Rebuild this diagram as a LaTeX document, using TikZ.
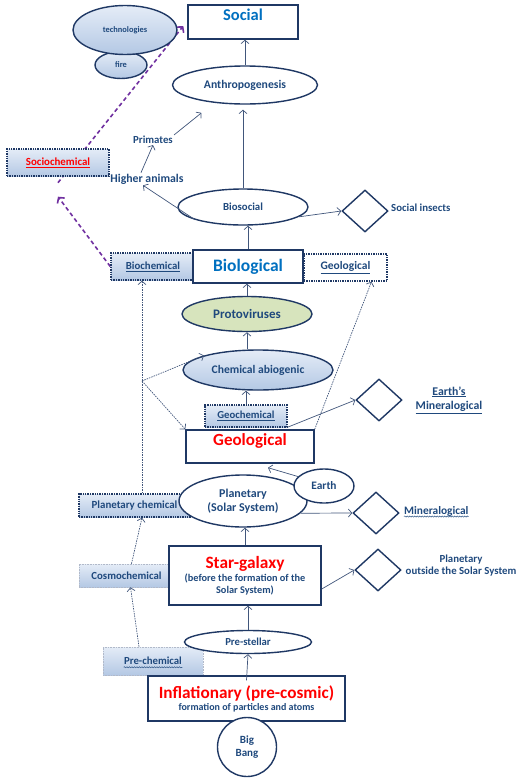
\documentclass[tikz,border=0pt]{standalone}
\usepackage{fontspec}
\setmainfont{Carlito}
\usetikzlibrary{shapes.geometric,arrows.meta,backgrounds,decorations.pathmorphing}
\definecolor{navy}{HTML}{1F3864}
\definecolor{ink}{HTML}{1F497D}
\definecolor{skyblue}{HTML}{0070C0}
\definecolor{hotred}{HTML}{FF0000}
\definecolor{plum}{HTML}{7030A0}
\definecolor{paleA}{HTML}{E4ECF7}
\definecolor{paleB}{HTML}{B4C8E4}
\definecolor{moss}{HTML}{D7E4BD}
\newcommand{\fsz}[2]{\fontsize{#1}{#2}\selectfont\bfseries}
\begin{document}
\begin{tikzpicture}[x=1pt,y=-1pt,
  box/.style={draw=navy,line width=1.4pt,fill=white,inner sep=0pt},
  oval/.style={ellipse,draw=navy,line width=1.4pt,fill=white,inner sep=0pt,text=ink},
  glaze/.style={top color=paleA,bottom color=paleB},
  chem/.style={draw=navy,line width=1.4pt,densely dotted,fill=white,inner sep=0pt,text=ink},
  faint/.style={glaze,draw=navy!35,line width=0.6pt,densely dotted,inner sep=0pt,text=ink},
  gem/.style={diamond,draw=navy,line width=1.4pt,fill=white,inner sep=0pt,minimum width=46pt,minimum height=42pt},
  tag/.style={text=ink,inner sep=1pt},
  headline/.style={anchor=north,inner sep=1pt,yshift=-3pt},
  link/.style={draw=navy!85,line width=0.7pt,-{Straight Barb[length=3.5pt,width=8pt]}},
  dlink/.style={link,dash pattern=on 1.5pt off 1pt},
  plink/.style={draw=plum,line width=1.6pt,dash pattern=on 4pt off 3pt,-{Straight Barb[length=4pt,width=9pt]}},
  squiggle/.style={draw=ink,line width=0.5pt,decorate,decoration={snake,amplitude=0.6pt,segment length=2.5pt}}]
\useasboundingbox (0,0) rectangle (526,782);

% social level
\node[oval,glaze,minimum width=52pt,minimum height=27pt,font=\fsz{8.4}{9}] (fire) at (121,65) {fire};
\node[oval,glaze,minimum width=104pt,minimum height=49pt,font=\fsz{8.4}{9}] (tech) at (125,30) {technologies};
\node[box,minimum width=110pt,minimum height=34pt,
      label={[headline,text=skyblue,font=\fsz{16.5}{18}]north:Social}] (social) at (243,22) {};
\node[oval,minimum width=145pt,minimum height=38pt,font=\fsz{11.7}{13}] (anthro) at (245,85) {Anthropogenesis};
\node[tag,font=\fsz{10.8}{12}] (primates) at (153,140) {Primates};
\node[tag,font=\fsz{11.8}{13}] (higher) at (147,179) {Higher animals};
\node[oval,minimum width=130pt,minimum height=36pt,font=\fsz{10.8}{12}] (biosocial) at (243,207) {Biosocial};
\node[gem] (insects) at (365,211) {};
\node[tag,font=\fsz{10.8}{12},anchor=west] (insectstxt) at (390,208) {Social insects};
\node[chem,glaze,minimum width=102pt,minimum height=27pt,font=\fsz{10.9}{12},text=hotred] (sociochem) at (58,162.5) {\underline{Sociochemical}};

% biological level
\node[chem,glaze,minimum width=84pt,minimum height=27pt,font=\fsz{10.8}{12}] (biochem) at (153,266.5) {\underline{Biochemical}};
\node[chem,minimum width=83pt,minimum height=27pt,font=\fsz{11.5}{12}] (geoR) at (345.5,267.5) {\underline{Geological}};
\node[box,minimum width=110pt,minimum height=33pt,text=skyblue,font=\fsz{17.5}{19}] (biological) at (248,266.5) {Biological};
\node[oval,fill=moss,minimum width=130pt,minimum height=35pt,font=\fsz{13}{14}] (proto) at (247,314) {Protoviruses};
\node[oval,glaze,minimum width=150pt,minimum height=40pt,font=\fsz{11.6}{13}] (chemab) at (258,370) {Chemical abiogenic};
\node[chem,glaze,minimum width=82pt,minimum height=22pt,font=\fsz{10.7}{12}] (geochem) at (246,416) {\underline{Geochemical}};
\node[gem] (earthgem) at (379,400) {};
\node[tag,font=\fsz{11.8}{14.5},align=center] (earthmin) at (449,400) {\underline{Earth\symbol{39}s}\\\underline{Mineralogical}};

% geological level
\node[box,minimum width=128pt,minimum height=33pt,
      label={[headline,text=hotred,font=\fsz{17}{18}]north:Geological}] (geol) at (250,446.5) {};
\node[chem,glaze,minimum width=111pt,minimum height=23pt,font=\fsz{10.9}{12}] (pchem) at (134.5,505.5) {Planetary chemical};
\node[oval,minimum width=128pt,minimum height=52pt,font=\fsz{12}{14.5},align=center] (planet) at (243,501) {Planetary\\(Solar System)};
\node[oval,minimum width=60pt,minimum height=34pt,font=\fsz{11.4}{12}] (earth) at (324,486) {Earth};
\node[gem] (mingem) at (376,513) {};
\node[tag,font=\fsz{11.4}{12},anchor=west] (mintxt) at (403,511) {Mineralogical};

% cosmic level
\node[faint,minimum width=95pt,minimum height=23pt,font=\fsz{10.8}{12}] (cosmo) at (126.5,575.5) {Cosmochemical};
\node[box,minimum width=152pt,minimum height=59pt,align=center,text=ink,font=\fsz{10.3}{11.5}] (star) at (245,575.5)
  {{\color{hotred}\fsz{17.3}{18}Star-galaxy}\\[2pt](before the formation of the\\Solar System)};
\node[gem] (outgem) at (378,570) {};
\node[tag,font=\fsz{10.8}{12},align=center] (outtxt) at (461,566) {Planetary\\outside the Solar System};
\node[faint,minimum width=100pt,minimum height=28pt,font=\fsz{10.8}{12}] (prechem) at (153,661) {Pre-chemical};
\node[oval,minimum width=127pt,minimum height=23pt,font=\fsz{10.7}{12}] (prestellar) at (248,642) {Pre-stellar};
\node[box,minimum width=197pt,minimum height=45pt,align=center,text=ink,font=\fsz{10}{11}] (infl) at (246.5,698.5)
  {{\color{hotred}\fsz{17.2}{18}Inflationary (pre-cosmic)}\\[1pt]formation of particles and atoms};
\node[circle,draw=navy,line width=1.4pt,fill=white,minimum size=59pt,inner sep=0pt,align=center,
      text=ink,font=\fsz{11}{13.5}] (bang) at (247,747) {Big\\Bang};

% wavy underlines
\draw[squiggle] ([xshift=1pt,yshift=-2.5pt]mintxt.base west) -- ([xshift=-1pt,yshift=-2.5pt]mintxt.base east);
\draw[squiggle] ([xshift=21pt,yshift=-2.5pt]prechem.base west) -- ([xshift=-21pt,yshift=-2.5pt]prechem.base east);

% solid arrows
\draw[link] (anthro.north) -- (anthro.north |- social.south);
\draw[link,shorten >=5pt] (biosocial.north) -- (biosocial.north |- anthro.south);
\draw[link] (biosocial.195) -- ([xshift=-4pt]higher.south);
\draw[link] ([xshift=-6pt]higher.north) -- (primates.south);
\draw[link] (primates.north east) -- ([yshift=-12pt]anthro.200);
\draw[link] (biosocial.-10) -- (insects.west);
\draw[link] (biological.north) -- (biological.north |- biosocial.south);
\draw[link] (proto.north) -- (proto.north |- biological.south);
\draw[link] (proto.south |- chemab.north) -- (proto.south);
\draw[link] (geochem.north) -- (geochem.north |- chemab.south);
\draw[link] (geochem.-15) -- (earthgem.west);
\draw[link] (earth.160) -- ([xshift=18pt,yshift=-4pt]geol.south);
\draw[link] (planet.-12) -- (mingem.west);
\draw[link] (star.north) -- (star.north |- planet.south);
\draw[link] (star.-10) -- (outgem.west);
\draw[link] (prestellar.north) -- (prestellar.north |- star.south);
\draw[link] ([yshift=-5pt]infl.north) -- (prestellar.south);

% dotted arrows
\coordinate (fork) at (142,381);
\draw[dlink] ([xshift=7.5pt]pchem.north) -- ([xshift=-11pt]biochem.south);
\draw[dlink] (fork) -- (chemab.165);
\draw[dlink] (fork) -- (geol.north west);
\draw[dlink] (geol.north east) -- ([xshift=26pt]geoR.south);
\draw[dlink] ([xshift=5pt]cosmo.north) -- ([xshift=7.5pt]pchem.south);
\draw[dlink] ([xshift=-14pt]prechem.north) -- ([xshift=4pt]cosmo.south);

% purple dashed arrows
\begin{scope}[on background layer]
\draw[plink] (biochem.west) -- ([yshift=-20pt]sociochem.south);
\draw[plink] ([yshift=-6pt]sociochem.south) -- ([shift={(-4pt,-4pt)}]social.west);
\end{scope}
\end{tikzpicture}
\end{document}
